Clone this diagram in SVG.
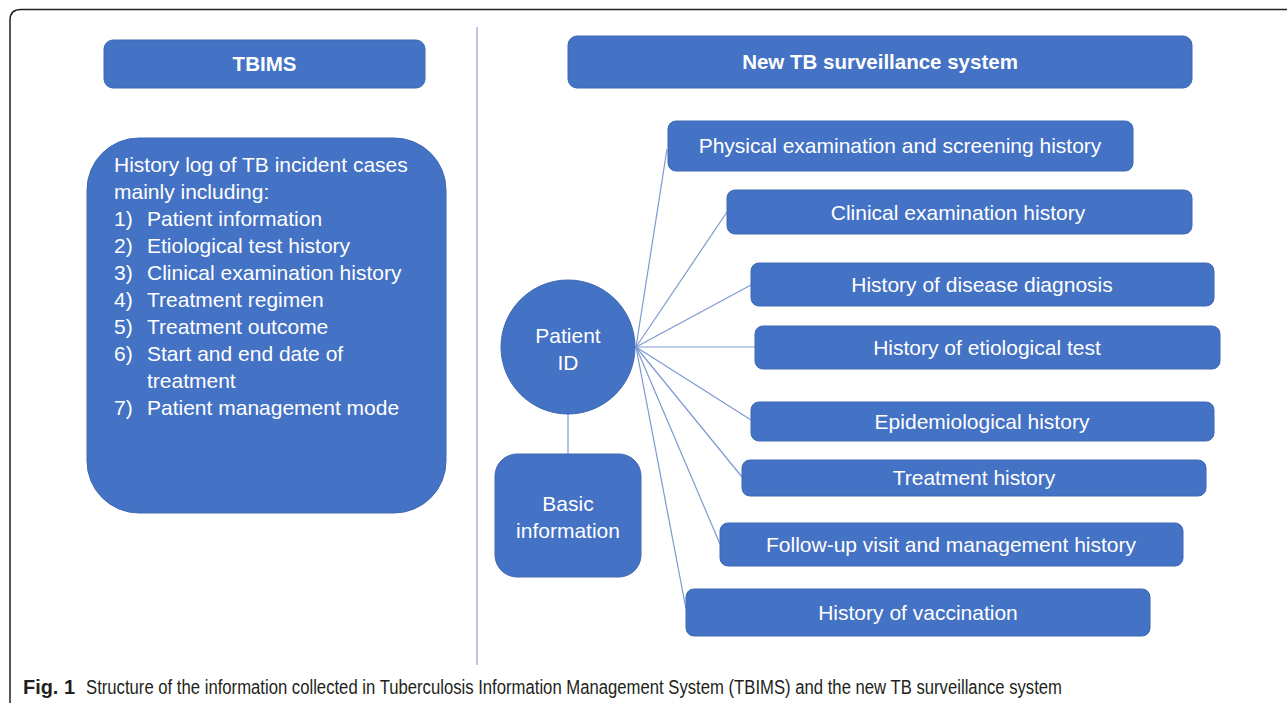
<svg xmlns="http://www.w3.org/2000/svg" width="1287" height="703" viewBox="0 0 1287 703">
<style>
.box{fill:#4472C4;stroke:#3f68b4;stroke-width:1}
.t{font-family:"Liberation Sans",Arial,sans-serif;fill:#ffffff;font-size:21px}
.tc{text-anchor:middle}
.b{font-weight:bold;font-size:20.5px}
.conn line{stroke:#7d99d1;stroke-width:1.2}
.cap{font-family:"Liberation Sans",Arial,sans-serif;fill:#231f20;font-size:20px}
</style>
<rect width="1287" height="703" fill="#ffffff"/>
<path d="M10,703 V20 Q10,9.5 21,9.5 H1287" fill="none" stroke="#222" stroke-width="1.5"/>
<line x1="477" y1="27" x2="477" y2="665" stroke="#a7b6d3" stroke-width="1.5"/>

<g class="conn">
<line x1="568" y1="414" x2="568" y2="454"/>
<line x1="636" y1="347" x2="667" y2="149"/>
<line x1="636" y1="347" x2="727" y2="212"/>
<line x1="636" y1="347" x2="751" y2="285"/>
<line x1="636" y1="347" x2="755" y2="347"/>
<line x1="636" y1="347" x2="751" y2="420"/>
<line x1="636" y1="347" x2="742" y2="477"/>
<line x1="636" y1="347" x2="720" y2="544"/>
<line x1="636" y1="347" x2="686" y2="609"/>
</g>

<g id="tbims">
<rect class="box" x="104" y="40" width="321" height="48" rx="9"/>
<text class="t tc b" x="264.5" y="71">TBIMS</text>
</g>

<g id="history-log">
<rect class="box" x="87" y="138" width="359" height="375" rx="52"/>
<g class="t">
<text x="114" y="172">History log of TB incident cases</text>
<text x="114" y="199">mainly including:</text>
<text x="114" y="226">1)</text><text x="147" y="226">Patient information</text>
<text x="114" y="253">2)</text><text x="147" y="253">Etiological test history</text>
<text x="114" y="280">3)</text><text x="147" y="280">Clinical examination history</text>
<text x="114" y="307">4)</text><text x="147" y="307">Treatment regimen</text>
<text x="114" y="334">5)</text><text x="147" y="334">Treatment outcome</text>
<text x="114" y="361">6)</text><text x="147" y="361">Start and end date of</text>
<text x="147" y="388">treatment</text>
<text x="114" y="415">7)</text><text x="147" y="415">Patient management mode</text>
</g>
</g>

<g id="new-system">
<rect class="box" x="568" y="36" width="624" height="52" rx="9"/>
<text class="t tc b" x="880" y="69">New TB surveillance system</text>
</g>

<g id="patient-id">
<circle class="box" cx="568" cy="347" r="67"/>
<text class="t tc" x="568" y="343">Patient</text>
<text class="t tc" x="568" y="370">ID</text>
</g>

<g id="basic-info">
<rect class="box" x="495" y="454" width="146" height="123" rx="22"/>
<text class="t tc" x="568" y="511">Basic</text>
<text class="t tc" x="568" y="538">information</text>
</g>

<g id="n1"><rect class="box" x="668" y="121" width="465" height="50" rx="8"/><text class="t tc" x="900" y="153">Physical examination and screening history</text></g>
<g id="n2"><rect class="box" x="727" y="190" width="465" height="44" rx="8"/><text class="t tc" x="958" y="220">Clinical examination history</text></g>
<g id="n3"><rect class="box" x="751" y="263" width="463" height="43" rx="8"/><text class="t tc" x="982" y="292">History of disease diagnosis</text></g>
<g id="n4"><rect class="box" x="755" y="326" width="465" height="43" rx="8"/><text class="t tc" x="987" y="355">History of etiological test</text></g>
<g id="n5"><rect class="box" x="751" y="402" width="463" height="39" rx="8"/><text class="t tc" x="982" y="429">Epidemiological history</text></g>
<g id="n6"><rect class="box" x="742" y="460" width="464" height="36" rx="8"/><text class="t tc" x="974" y="485">Treatment history</text></g>
<g id="n7"><rect class="box" x="720" y="523" width="463" height="43" rx="8"/><text class="t tc" x="951" y="552">Follow-up visit and management history</text></g>
<g id="n8"><rect class="box" x="686" y="589" width="464" height="47" rx="8"/><text class="t tc" x="918" y="620">History of vaccination</text></g>

<g id="caption">
<text class="cap" x="23" y="694" font-weight="bold" textLength="52" lengthAdjust="spacingAndGlyphs">Fig. 1</text>
<text class="cap" x="86" y="694" textLength="976" lengthAdjust="spacingAndGlyphs">Structure of the information collected in Tuberculosis Information Management System (TBIMS) and the new TB surveillance system</text>
</g>
</svg>
